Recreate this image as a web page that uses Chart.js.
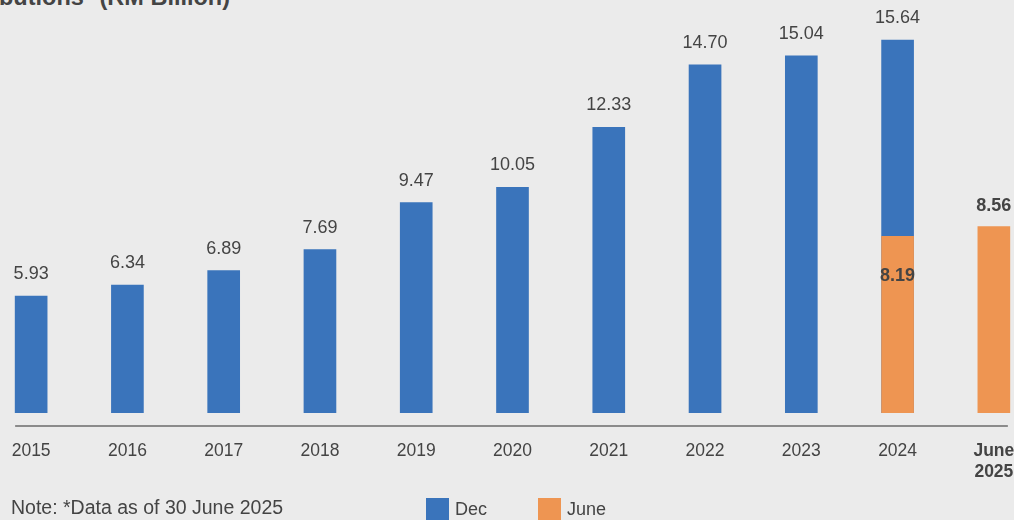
<!DOCTYPE html>
<html>
<head>
<meta charset="utf-8">
<script src="https://cdn.jsdelivr.net/npm/chart.js@4"></script>
<style>
  html, body { margin: 0; padding: 0; }
  body {
    width: 1014px; height: 520px; overflow: hidden; position: relative;
    background: #ebebeb; font-family: "Liberation Sans", Arial, sans-serif; color: #444;
  }
  #wrap { position: absolute; left: -17px; top: 0; width: 1059px; height: 520px; }
  .title { position: absolute; left: -1px; top: -15px; font-size: 23.5px; font-weight: bold; line-height: 24px; color: #444; white-space: nowrap; }
  .note { position: absolute; left: 11px; top: 497px; font-size: 19.5px; line-height: 20px; color: #444; white-space: nowrap; }
  .legend { position: absolute; top: 498px; font-size: 18px; line-height: 22px; color: #444; white-space: nowrap; }
  .legend span.box { display: inline-block; width: 23px; height: 23px; vertical-align: top; margin-right: 6px; }
</style>
</head>
<body>
<div class="title">butions* (RM Billion)</div>
<div id="wrap"><canvas id="chart"></canvas></div>
<div class="note">Note: *Data as of 30 June 2025</div>
<div class="legend" style="left:426px"><span class="box" style="background:#3a74bb"></span>Dec</div>
<div class="legend" style="left:538px"><span class="box" style="background:#ee9552"></span>June</div>
<script>
const categories = ["2015", "2016", "2017", "2018", "2019", "2020", "2021", "2022", "2023", "2024", ["June", "2025"]];
const decValues = [5.93, 6.34, 6.89, 7.69, 9.47, 10.05, 12.33, 14.70, 15.04, 15.64, null];
const juneValues = [null, null, null, null, null, null, null, null, null, 8.19, 8.56];

const BLUE = "#3a74bb";
const ORANGE = "#ee9552";
const TEXT = "#444444";
const FONT = "'Liberation Sans', Arial, sans-serif";

// value labels + the detached baseline line
const labelPlugin = {
  id: "valueLabels",
  afterDatasetsDraw(chart) {
    const ctx = chart.ctx;
    const area = chart.chartArea;
    const x = chart.scales.x;
    ctx.save();
    ctx.strokeStyle = "#6b6b6b";
    ctx.lineWidth = 1.5;
    ctx.beginPath();
    ctx.moveTo(x.getPixelForValue(0) - 16, area.bottom + 13);
    ctx.lineTo(x.getPixelForValue(10) + 14, area.bottom + 13);
    ctx.stroke();

    ctx.textAlign = "center";
    ctx.textBaseline = "middle";
    ctx.fillStyle = TEXT;
    chart.data.datasets.forEach((ds, di) => {
      const meta = chart.getDatasetMeta(di);
      meta.data.forEach((bar, i) => {
        const v = ds.data[i];
        if (v === null || v === undefined) return;
        const txt = v.toFixed(2);
        if (ds.label === "June") {
          ctx.font = "bold 18px " + FONT;
          if (decValues[i] !== null) {
            ctx.fillText(txt, bar.x, bar.y + 40);
          } else {
            ctx.fillText(txt, bar.x, bar.y - 21);
          }
        } else {
          ctx.font = "18px " + FONT;
          ctx.fillText(txt, bar.x, bar.y - 22);
        }
      });
    });
    ctx.restore();
  }
};

new Chart(document.getElementById("chart"), {
  type: "bar",
  data: {
    labels: categories,
    datasets: [
      {
        label: "June",
        data: juneValues,
        backgroundColor: ORANGE,
        barThickness: 32,
        grouped: false,
        order: 0
      },
      {
        label: "Dec",
        data: decValues,
        backgroundColor: BLUE,
        barThickness: 32,
        grouped: false,
        order: 1
      }
    ]
  },
  options: {
    responsive: true,
    maintainAspectRatio: false,
    animation: false,
    layout: { padding: 0 },
    plugins: {
      legend: { display: false },
      tooltip: { enabled: false }
    },
    scales: {
      x: {
        grid: { display: false },
        border: { display: false },
        ticks: {
          color: TEXT,
          padding: 20,
          autoSkip: false,
          maxRotation: 0,
          font: (c) => ({ family: FONT, size: 17.5, weight: c.index === 10 ? "bold" : "normal", lineHeight: 1.2 })
        },
        afterFit(scale) { scale.height = 107; }
      },
      y: {
        display: false,
        min: 1.49,
        max: 17.16
      }
    }
  },
  plugins: [labelPlugin]
});
</script>
</body>
</html>
